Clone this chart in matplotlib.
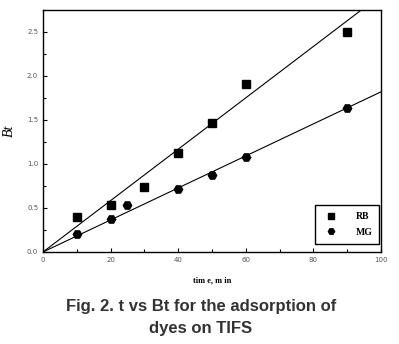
import numpy as np
import matplotlib.pyplot as plt

# time (min) and Bt values
t_rb = [10, 20, 30, 40, 50, 60, 90]
bt_rb = [0.40, 0.53, 0.74, 1.13, 1.47, 1.91, 2.50]
t_mg = [10, 20, 25, 40, 50, 60, 90]
bt_mg = [0.20, 0.37, 0.53, 0.72, 0.88, 1.08, 1.64]

# fitted slopes of the straight lines through the origin
slope_rb = 0.0292
slope_mg = 0.0182

fig = plt.figure(figsize=(3.99, 3.44), dpi=100)
ax = fig.add_axes([43/399, 1-252/344, 338/399, 242/344])

tt = np.array([0, 100])
ax.plot(tt, slope_rb*tt, color='black', lw=0.8)
ax.plot(tt, slope_mg*tt, color='black', lw=0.8)
ax.plot(t_rb, bt_rb, 's', color='black', ms=5.5, label='RB')
ax.plot(t_mg, bt_mg, 'H', color='black', ms=6, label='MG')

ax.set_xlim(0, 100)
ax.set_ylim(0, 2.75)
ax.set_xticks([0, 20, 40, 60, 80, 100])
ax.set_xticks(np.arange(0, 101, 10), minor=True)
ax.set_yticks([0, 0.5, 1.0, 1.5, 2.0, 2.5])
ax.set_yticks(np.arange(0, 2.76, 0.25), minor=True)
ax.set_yticklabels(['0.0', '0.5', '1.0', '1.5', '2.0', '2.5'])
ax.tick_params(which='both', direction='in', labelsize=5, colors='black', width=0.8)
ax.tick_params(which='major', length=3)
ax.tick_params(which='minor', length=2)
for lab in ax.get_xticklabels() + ax.get_yticklabels():
    lab.set_family('DejaVu Sans')
    lab.set_color('#555555')
for s in ax.spines.values():
    s.set_linewidth(1.0)

ax.set_xlabel('tim e, m in', family='Liberation Serif', fontweight='bold', fontsize=6, labelpad=10)
ax.set_ylabel('Bt', family='Liberation Serif', style='italic', fontsize=10, labelpad=8)

leg = ax.legend(loc='lower right', bbox_to_anchor=(0.995, 0.035),
                prop={'family': 'Liberation Serif', 'weight': 'bold', 'size': 7},
                fancybox=False, edgecolor='black', framealpha=1, borderaxespad=0,
                borderpad=0.7, handletextpad=1.5, markerscale=0.75, labelspacing=0.7)
leg.get_frame().set_linewidth(1.0)

fig.text(201/399, 1-307/344, 'Fig. 2. t vs Bt for the adsorption of', ha='center', va='center',
         fontsize=12, fontweight='bold', color='#333333', family='Liberation Sans')
fig.text(201/399, 1-328/344, 'dyes on TIFS', ha='center', va='center',
         fontsize=12, fontweight='bold', color='#333333', family='Liberation Sans')

fig.savefig('out.png', dpi=100)
